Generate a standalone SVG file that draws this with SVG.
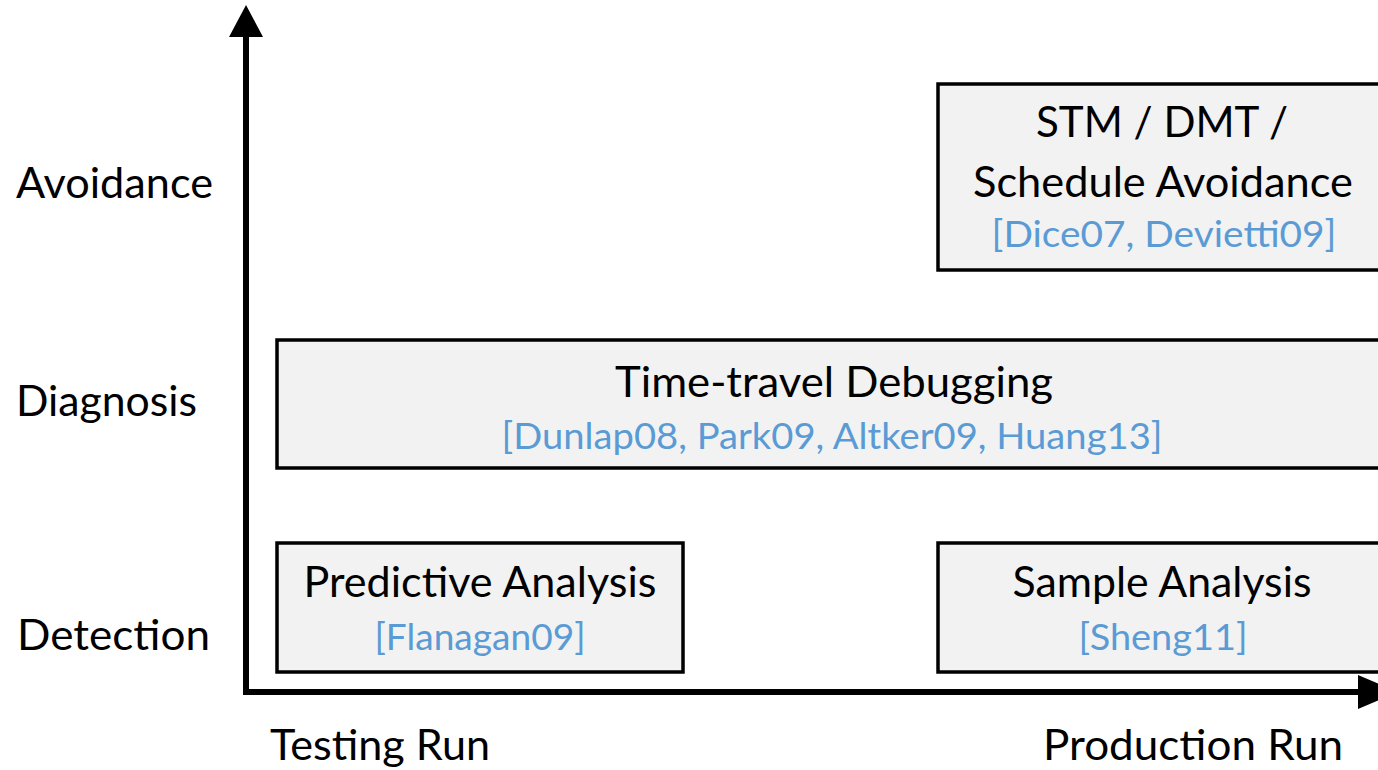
<svg xmlns="http://www.w3.org/2000/svg" width="1378" height="770" viewBox="0 0 1378 770">
  <defs>
    <style>
      .box { fill: #F2F2F2; stroke: #000; stroke-width: 3.5; }
      .axis { stroke: #000; stroke-width: 6; fill: none; }
      .lbl { font-family: Lato, "Open Sans", sans-serif; font-size: 42px; fill: #000; }
      .ref { font-family: Lato, "Open Sans", sans-serif; font-size: 36px; fill: #5B9BD5; }
      .mid { text-anchor: middle; }
    </style>
    <marker id="head-up" markerUnits="userSpaceOnUse" markerWidth="32" markerHeight="34" refX="0" refY="17" orient="auto" viewBox="0 0 32 34">
      <path d="M0,0 L32,17 L0,34 Z" fill="#000"/>
    </marker>
    <marker id="head-right" markerUnits="userSpaceOnUse" markerWidth="40" markerHeight="34" refX="0" refY="17" orient="auto" viewBox="0 0 40 34">
      <path d="M0,0 L40,17 L0,34 Z" fill="#000"/>
    </marker>
  </defs>
  <rect width="1378" height="770" fill="#fff"/>

  <!-- axis labels -->
  <g id="y-labels">
    <text class="lbl" x="16" y="198" textLength="197" lengthAdjust="spacingAndGlyphs">Avoidance</text>
    <text class="lbl" x="16" y="416" textLength="181" lengthAdjust="spacingAndGlyphs">Diagnosis</text>
    <text class="lbl" x="17" y="650" textLength="193" lengthAdjust="spacingAndGlyphs">Detection</text>
  </g>
  <g id="x-labels">
    <text class="lbl" x="270" y="760" textLength="220" lengthAdjust="spacingAndGlyphs">Testing Run</text>
    <text class="lbl" x="1043" y="760" textLength="300" lengthAdjust="spacingAndGlyphs">Production Run</text>
  </g>

  <!-- nodes -->
  <g id="node-avoidance">
    <rect class="box" x="938" y="84" width="460" height="186"/>
    <text class="lbl mid" x="1162" y="137" textLength="252" lengthAdjust="spacingAndGlyphs">STM / DMT /</text>
    <text class="lbl mid" x="1163" y="197" textLength="380" lengthAdjust="spacingAndGlyphs">Schedule Avoidance</text>
    <text class="ref mid" x="1164" y="247" textLength="345" lengthAdjust="spacingAndGlyphs">[Dice07, Devietti09]</text>
  </g>
  <g id="node-time-travel">
    <rect class="box" x="277" y="340" width="1120" height="128"/>
    <text class="lbl mid" x="834" y="397" textLength="438" lengthAdjust="spacingAndGlyphs">Time-travel Debugging</text>
    <text class="ref mid" x="832" y="449" textLength="661" lengthAdjust="spacingAndGlyphs">[Dunlap08, Park09, Altker09, Huang13]</text>
  </g>
  <g id="node-predictive">
    <rect class="box" x="277" y="543" width="406" height="129"/>
    <text class="lbl mid" x="480" y="597" textLength="353" lengthAdjust="spacingAndGlyphs">Predictive Analysis</text>
    <text class="ref mid" x="480" y="650" textLength="211" lengthAdjust="spacingAndGlyphs">[Flanagan09]</text>
  </g>
  <g id="node-sample">
    <rect class="box" x="938" y="543" width="460" height="129"/>
    <text class="lbl mid" x="1162" y="597" textLength="299" lengthAdjust="spacingAndGlyphs">Sample Analysis</text>
    <text class="ref mid" x="1163" y="650" textLength="169" lengthAdjust="spacingAndGlyphs">[Sheng11]</text>
  </g>

  <!-- axes -->
  <g id="connectors">
    <line class="axis" x1="246" y1="695" x2="246" y2="37" marker-end="url(#head-up)"/>
    <line class="axis" x1="243" y1="692" x2="1358" y2="692" marker-end="url(#head-right)"/>
  </g>
</svg>
